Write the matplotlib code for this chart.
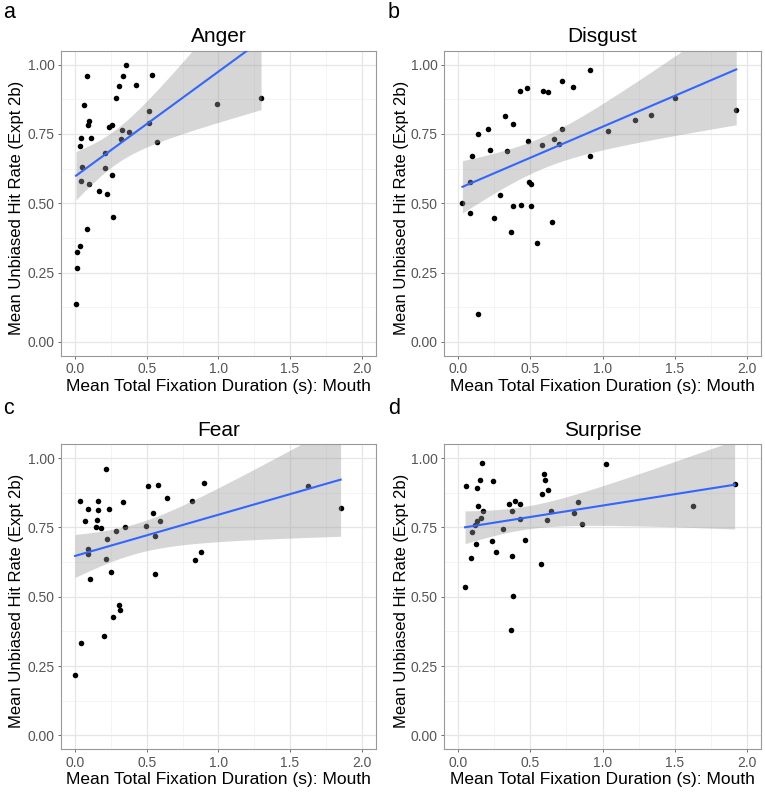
import numpy as np
import matplotlib
matplotlib.use("Agg")
import matplotlib.pyplot as plt

plt.rcParams['font.family'] = ['Liberation Sans', 'DejaVu Sans']

titles = ["Anger", "Disgust", "Fear", "Surprise"]
letters = ["a", "b", "c", "d"]

anger_x = [0.086, 0.063, 0.044, 0.037, 0.10, 0.093, 0.114, 0.047, 0.04,
           0.10, 0.167, 0.226, 0.212, 0.212, 0.26, 0.24, 0.26, 0.288, 0.305,
           0.335, 0.358, 0.328, 0.319, 0.377, 0.423, 0.535, 0.516, 0.519,
           0.574, 0.988, 1.298, 0.267, 0.086, 0.035, 0.012, 0.012, 0.007]
anger_y = [0.96, 0.855, 0.736, 0.706, 0.795, 0.783, 0.736, 0.629, 0.581,
           0.568, 0.544, 0.533, 0.682, 0.626, 0.602, 0.776, 0.781, 0.881, 0.923,
           0.96, 1.0, 0.764, 0.732, 0.756, 0.926, 0.964, 0.832, 0.788,
           0.720, 0.857, 0.881, 0.451, 0.406, 0.346, 0.325, 0.265, 0.138]

disgust_x = [0.092, 0.138, 0.208, 0.219, 0.081, 0.323, 0.337, 0.378, 0.429,
             0.473, 0.482, 0.489, 0.501, 0.288, 0.588, 0.621, 0.579, 0.662,
             0.697, 0.717, 0.720, 0.798, 0.916, 0.913, 1.040, 1.223, 1.336,
             1.504, 1.928, 0.028, 0.081, 0.245, 0.378, 0.436, 0.505, 0.362,
             0.542, 0.651, 0.138]
disgust_y = [0.671, 0.75, 0.768, 0.693, 0.578, 0.815, 0.687, 0.787, 0.904,
             0.917, 0.725, 0.575, 0.571, 0.529, 0.906, 0.9, 0.711, 0.730,
             0.714, 0.94, 0.767, 0.92, 0.981, 0.670, 0.760, 0.801, 0.818,
             0.880, 0.835, 0.501, 0.464, 0.446, 0.490, 0.493, 0.490, 0.396,
             0.356, 0.432, 0.100]

fear_x = [0.035, 0.088, 0.072, 0.163, 0.163, 0.156, 0.147, 0.179, 0.216,
          0.235, 0.223, 0.088, 0.088, 0.216, 0.251, 0.102, 0.286, 0.337,
          0.351, 0.493, 0.507, 0.581, 0.542, 0.556, 0.591, 0.560, 0.644,
          0.814, 0.835, 0.881, 0.902, 1.628, 1.853, 0.309, 0.316, 0.265,
          0.205, 0.040, 0.0]
fear_y = [0.846, 0.816, 0.772, 0.844, 0.814, 0.776, 0.751, 0.749, 0.960,
          0.817, 0.707, 0.672, 0.655, 0.636, 0.590, 0.564, 0.736, 0.843,
          0.751, 0.755, 0.899, 0.903, 0.803, 0.718, 0.772, 0.581, 0.857,
          0.844, 0.631, 0.660, 0.911, 0.898, 0.822, 0.470, 0.451, 0.428,
          0.359, 0.334, 0.218]

surprise_x = [0.051, 0.164, 0.150, 0.131, 0.238, 0.138, 0.173, 0.159, 0.129,
              0.118, 0.097, 0.120, 0.088, 0.046, 0.233, 0.258, 0.309, 0.348,
              0.371, 0.392, 0.425, 0.425, 0.369, 0.462, 0.595, 0.604, 0.623,
              0.577, 0.641, 0.618, 0.570, 0.803, 0.833, 0.860, 1.024, 1.629,
              1.917, 0.381, 0.365]
surprise_y = [0.899, 0.982, 0.922, 0.894, 0.919, 0.829, 0.811, 0.784, 0.774,
              0.760, 0.732, 0.692, 0.639, 0.536, 0.700, 0.663, 0.744, 0.835,
              0.810, 0.846, 0.833, 0.780, 0.647, 0.704, 0.944, 0.922, 0.886,
              0.869, 0.808, 0.778, 0.617, 0.802, 0.841, 0.761, 0.978, 0.829,
              0.906, 0.504, 0.382]

xs = [anger_x, disgust_x, fear_x, surprise_x]
ys = [anger_y, disgust_y, fear_y, surprise_y]

x_ticks = [0.0, 0.5, 1.0, 1.5, 2.0]
x_tick_labels = ["0.0", "0.5", "1.0", "1.5", "2.0"]
y_ticks = [0.0, 0.25, 0.5, 0.75, 1.0]
y_tick_labels = ["0.00", "0.25", "0.50", "0.75", "1.00"]
xlabel = "Mean Total Fixation Duration (s): Mouth"
ylabel = "Mean Unbiased Hit Rate (Expt 2b)"


def t_quantile(df, z=1.959964):
    # Cornish-Fisher expansion for the 97.5% t quantile
    return (z + (z**3 + z) / (4 * df) + (5 * z**5 + 16 * z**3 + 3 * z) / (96 * df**2)
            + (3 * z**7 + 19 * z**5 + 17 * z**3 - 15 * z) / (384 * df**3))


def lm_fit(x, y, n=80):
    x = np.asarray(x); y = np.asarray(y)
    N = len(x)
    b, a = np.polyfit(x, y, 1)
    resid = y - (a + b * x)
    s = np.sqrt(np.sum(resid**2) / (N - 2))
    xm = x.mean(); sxx = np.sum((x - xm)**2)
    xg = np.linspace(x.min(), x.max(), n)
    yg = a + b * xg
    se = s * np.sqrt(1.0 / N + (xg - xm)**2 / sxx)
    t = t_quantile(N - 2)
    return xg, yg, yg - t * se, yg + t * se


fig = plt.figure(figsize=(7.65, 7.92), dpi=100)
W, H = 765.0, 792.0
boxes = [(60.7, 50.7, 376.0, 355.7), (444.0, 50.7, 761.0, 355.7),
         (60.7, 444.3, 376.0, 749.3), (444.0, 444.3, 761.0, 749.3)]
letter_pos = [(3, 13), (388, 13), (3, 408), (388, 408)]
col_offset = [0, 385, 0, 385]

for i in range(4):
    l, t, r, b = boxes[i]
    ax = fig.add_axes([l / W, 1 - b / H, (r - l) / W, (b - t) / H])
    ax.set_xlim(-0.1, 2.1)
    ax.set_ylim(-0.05, 1.05)
    for v in [0.25, 0.75, 1.25, 1.75]:
        ax.axvline(v, color='#f2f2f2', lw=0.6, zorder=0)
    for v in [0.125, 0.375, 0.625, 0.875]:
        ax.axhline(v, color='#f2f2f2', lw=0.6, zorder=0)
    for v in x_ticks:
        ax.axvline(v, color='#e6e6e6', lw=0.9, zorder=0)
    for v in y_ticks:
        ax.axhline(v, color='#e6e6e6', lw=0.9, zorder=0)
    ax.scatter(xs[i], ys[i], s=16, color='black', linewidths=0, zorder=2)
    xg, yg, lo, hi = lm_fit(xs[i], ys[i])
    ax.fill_between(xg, lo, hi, color='#999999', alpha=0.4, linewidth=0, zorder=3)
    ax.plot(xg, yg, color='#3366FF', lw=1.5, zorder=4)
    ax.set_xticks(x_ticks)
    ax.set_xticklabels(x_tick_labels)
    ax.set_yticks(y_ticks)
    ax.set_yticklabels(y_tick_labels)
    ax.tick_params(length=2.5, width=0.6, color='#555555', labelcolor='#555555',
                   labelsize=10, pad=2)
    for sp in ax.spines.values():
        sp.set_color('#999999')
        sp.set_linewidth(0.8)
    ax.set_title(titles[i], fontsize=15, pad=6)
    ax.set_xlabel(xlabel, fontsize=12.5)
    ax.set_ylabel(ylabel, fontsize=12)
    ax.xaxis.set_label_coords(0.5, -23.0 / (b - t))
    ax.yaxis.set_label_coords((24 + col_offset[i] - l) / (r - l), 0.485)
    lx, ly = letter_pos[i]
    fig.text(lx / W, 1 - ly / H, letters[i], fontsize=15.5, ha='left', va='center')

fig.savefig("out.png", dpi=100)
